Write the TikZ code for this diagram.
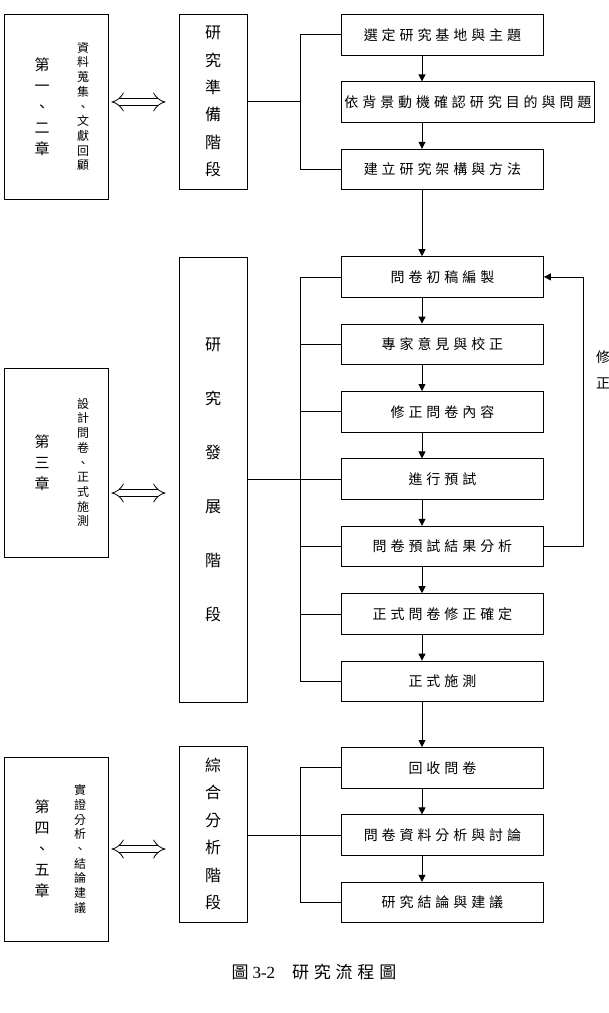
\documentclass[tikz,border=0pt]{standalone}
\usepackage{fontspec}
\setmainfont{Noto Sans CJK TC}
\newfontfamily\boxfont[LetterSpace=28]{Noto Sans CJK TC}
\newfontfamily\numfont{Liberation Serif}
\usetikzlibrary{arrows.meta,positioning}

\begin{document}
\begin{tikzpicture}[
    x=1pt, y=-1pt,
    stepbox/.style={draw, line width=0.9pt, minimum width=202pt, minimum height=40.5pt, inner sep=1pt, font=\boxfont\fontsize{14pt}{16pt}\selectfont},
    stagebox/.style={draw, line width=0.9pt, minimum width=68pt, align=center, inner sep=0pt},
    chapbox/.style={draw, line width=0.9pt, minimum width=104pt},
    bigcol/.style={align=center, inner sep=0pt, font=\fontsize{15pt}{21pt}\selectfont},
    smallcol/.style={align=center, inner sep=0pt, font=\fontsize{12pt}{14.7pt}\selectfont},
    flow/.style={draw, line width=0.8pt, -{Triangle[length=7pt,width=7pt]}},
    link/.style={draw, line width=0.8pt},
    dblarrow/.style={draw, double, double distance=6pt, line width=0.8pt, {Implies}-{Implies}, shorten <=3pt, shorten >=13pt}
]
    \useasboundingbox (0,0) rectangle (609,1013);
    \coordinate (bus) at (300,0);
    \coordinate (ax) at (422,0);
    \coordinate (fb) at (583,0);

    % chapters
    \node[chapbox, minimum height=185pt] (ch1) at (56,106.5) {};
    \node[bigcol, xshift=-14pt] (ch1a) at (ch1) {第\\一\\、\\二\\章};
    \node[smallcol, xshift=27pt] (ch1b) at (ch1) {資\\料\\蒐\\集\\、\\文\\獻\\回\\顧};
    \node[chapbox, minimum height=189pt] (ch2) at (56,462.5) {};
    \node[bigcol, xshift=-14pt] (ch2a) at (ch2) {第\\三\\章};
    \node[smallcol, xshift=27pt] (ch2b) at (ch2) {設\\計\\問\\卷\\、\\正\\式\\施\\測};
    \node[chapbox, minimum height=184pt] (ch3) at (56,849) {};
    \node[bigcol, xshift=-14pt] (ch3a) at (ch3) {第\\四\\、\\五\\章};
    \node[smallcol, xshift=24pt] (ch3b) at (ch3) {實\\證\\分\\析\\、\\結\\論\\建\\議};

    % stages
    \node[stagebox, minimum height=175pt, font=\fontsize{16pt}{27.3pt}\selectfont] (st1) at (213,101.5) {研\\究\\準\\備\\階\\段};
    \node[stagebox, minimum height=445pt, font=\fontsize{16pt}{54pt}\selectfont] (st2) at (213,479.5) {研\\究\\發\\展\\階\\段};
    \node[stagebox, minimum height=176pt, font=\fontsize{16pt}{27.4pt}\selectfont] (st3) at (213,834) {綜\\合\\分\\析\\階\\段};

    % steps
    \node[stepbox, anchor=north west] (A) at (341,14) {選定研究基地與主題};
    \node[stepbox, minimum width=253pt, below=26pt of A.south west, anchor=north west] (B) {依背景動機確認研究目的與問題};
    \node[stepbox, below=26pt of B.south west, anchor=north west] (C) {建立研究架構與方法};
    \node[stepbox, below=66pt of C.south west, anchor=north west] (D) {問卷初稿編製};
    \node[stepbox, below=26pt of D.south west, anchor=north west] (E) {專家意見與校正};
    \node[stepbox, below=26pt of E.south west, anchor=north west] (F) {修正問卷內容};
    \node[stepbox, below=26pt of F.south west, anchor=north west] (G) {進行預試};
    \node[stepbox, below=26pt of G.south west, anchor=north west] (H) {問卷預試結果分析};
    \node[stepbox, below=26pt of H.south west, anchor=north west] (I) {正式問卷修正確定};
    \node[stepbox, below=26pt of I.south west, anchor=north west] (J) {正式施測};
    \node[stepbox, below=45pt of J.south west, anchor=north west] (K1) {回收問卷};
    \node[stepbox, below=26pt of K1.south west, anchor=north west] (K2) {問卷資料分析與討論};
    \node[stepbox, below=26pt of K2.south west, anchor=north west] (K3) {研究結論與建議};

    \foreach \a/\b in {A/B,B/C,C/D,D/E,E/F,F/G,G/H,H/I,I/J,J/K1,K1/K2,K2/K3}
        \draw[flow] (\a.south -| ax) -- (\b.north -| ax);

    % brackets
    \draw[link] (A.west) -- (A.west -| bus) -- (C.west -| bus) -- (C.west);
    \draw[link] (st1.east) -- (st1.east -| bus);
    \draw[link] (D.west) -- (D.west -| bus) -- (J.west -| bus) -- (J.west);
    \foreach \n in {E,F,H,I}
        \draw[link] (\n.west) -- (\n.west -| bus);
    \draw[link] (G.west -| st2.east) -- (G.west);
    \draw[link] (K1.west) -- (K1.west -| bus) -- (K3.west -| bus) -- (K3.west);
    \draw[link] (K2.west -| st3.east) -- (K2.west);

    % feedback
    \draw[flow] (H.east) -- (H.east -| fb) -- (D.east -| fb) -- (D.east);
    \node[align=center, inner sep=0pt, font=\fontsize{14pt}{26pt}\selectfont] (fix) at (603,370) {修\\正};

    % chapter arrows
    \draw[dblarrow] ([yshift=4.5pt]ch1.east) -- ([yshift=4.5pt]ch1.east -| st1.west);
    \draw[dblarrow] ([yshift=-30.5pt]ch2.east) -- ([yshift=-30.5pt]ch2.east -| st2.west);
    \draw[dblarrow] (ch3.east) -- (ch3.east -| st3.west);

    \node[font=\fontsize{17pt}{20pt}\selectfont] (cap) at (314,972) {圖 {\numfont 3-2}\hspace{1em}{\boxfont 研究流程圖}};
\end{tikzpicture}
\end{document}
